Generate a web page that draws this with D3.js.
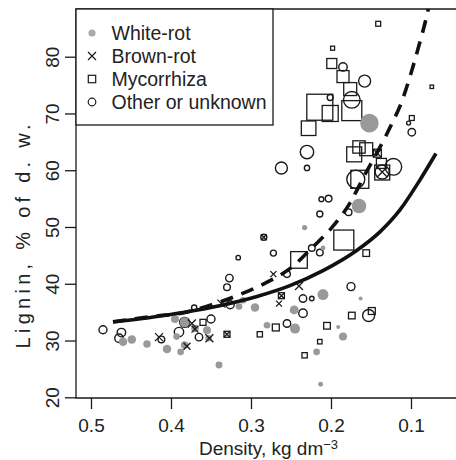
<!DOCTYPE html>
<html><head><meta charset="utf-8">
<script src="https://cdn.jsdelivr.net/npm/d3@7"></script>
<style>
html,body{margin:0;padding:0;background:#fff;}
svg{display:block;}
text{font-family:"Liberation Sans",Arial,Helvetica,sans-serif;fill:#222;}
</style></head>
<body><svg id="chart" width="456" height="460"></svg>
<script>
// ---- data: [density kg dm-3, lignin %, weight] ----
const whiteRot = [
 [0.152,68.3,86],[0.165,53.7,53],[0.233,49.9,7],[0.210,46.3,6],[0.210,38.1,30],[0.163,37.4,4],
 [0.246,35.4,20],[0.280,32.7,11],[0.245,32.1,25],[0.191,32.4,4],[0.185,30.7,16],[0.218,28.0,11],
 [0.213,22.3,6],[0.315,36.0,11],[0.310,37.1,11],[0.295,35.8,18],[0.370,32.1,14],[0.355,31.8,16],
 [0.353,30.4,11],[0.340,25.7,12],[0.460,29.8,18],[0.449,30.2,18],[0.430,29.4,14],[0.405,28.5,18],
 [0.388,28.0,11],[0.383,29.2,14],[0.393,30.7,11],[0.395,33.8,16],[0.383,33.2,25]
];
const brownRot = [
 [0.272,41.7,9],[0.240,39.6,16],[0.262,37.9,9],[0.265,36.5,9],[0.337,36.5,16],[0.374,33.0,16],
 [0.370,32.0,12],[0.352,30.4,16],[0.380,29.0,12],[0.415,30.6,16],[0.330,31.1,9],[0.136,59.7,25],
 [0.142,63.0,12],[0.284,48.2,9]
];
const mycorrhiza = [
 [0.141,85.8,6],[0.198,81.5,4],[0.199,78.8,25],[0.185,76.5,36],[0.176,74.3,42],[0.214,71.1,169],
 [0.201,70.0,64],[0.174,70.5,100],[0.228,67.4,53],[0.074,74.7,3],[0.099,69.2,6],[0.171,62.8,56],
 [0.165,64.1,38],[0.156,63.7,42],[0.142,63.0,16],[0.137,61.2,25],[0.136,59.6,56],[0.164,58.4,81],
 [0.184,47.7,100],[0.240,44.2,69],[0.156,45.4,11],[0.262,37.9,9],[0.149,35.2,12],[0.174,34.4,11],
 [0.205,32.6,11],[0.269,32.3,12],[0.289,31.1,7],[0.214,29.8,5],[0.233,27.4,7],[0.330,31.1,9],
 [0.360,33.2,9]
];
const otherUnknown = [
 [0.185,78.2,18],[0.158,75.7,36],[0.174,72.4,69],[0.201,72.8,9],[0.103,68.3,4],[0.099,66.7,14],
 [0.230,63.2,45],[0.262,60.4,36],[0.230,60.4,7],[0.122,60.6,69],[0.136,59.7,49],[0.169,58.4,81],
 [0.212,54.9,6],[0.203,55.0,11],[0.178,52.6,11],[0.214,52.3,9],[0.284,48.2,9],[0.272,45.4,9],
 [0.224,46.3,11],[0.214,45.5,11],[0.255,41.7,11],[0.175,39.5,16],[0.235,37.4,14],[0.224,37.4,5],
 [0.235,34.8,18],[0.153,34.4,36],[0.255,33.0,14],[0.316,44.6,5],[0.327,41.0,14],[0.330,39.4,11],
 [0.326,36.3,16],[0.371,35.8,7],[0.350,33.8,16],[0.365,30.6,14],[0.485,31.9,16],[0.462,31.4,18],
 [0.465,30.4,18],[0.412,30.2,11],[0.390,31.5,22],[0.383,33.2,25]
];
// fitted curves [density, lignin]
const solidFit = [
 [0.4725,33.26],[0.430,33.98],[0.385,34.93],[0.335,36.27],[0.2925,37.77],[0.2513,39.68],
 [0.210,42.31],[0.1675,45.90],[0.1388,49.14],[0.1138,53.01],[0.0888,58.29],[0.0688,62.94]
];
const dashedFit = [
 [0.4725,33.3],[0.420,34.3],[0.384,34.9],[0.349,36.3],[0.314,38.1],[0.281,40.2],[0.251,42.7],
 [0.2225,46.5],[0.199,49.9],[0.176,54.3],[0.160,58.6],[0.126,67.6],[0.111,72.3],[0.100,77.1],
 [0.090,82.0],[0.081,86.8],[0.076,90.0]
];
const xTicks = [0.5,0.4,0.3,0.2,0.1];
const yTicks = [20,30,40,50,60,70,80];
const legendLabels = ["White-rot","Brown-rot","Mycorrhiza","Other or unknown"];

// ---- drawing ----
const svg = d3.select("#chart");
const L = 76, T = 9, R = 456, B = 398;
const x = d3.scaleLinear().domain([0.5,0.1]).range([91,411]);
const y = d3.scaleLinear().domain([20,80]).range([397.3,56.7]);
const sz = d3.scaleSqrt().domain([0,100]).range([0,10]);
const ink = "#1a1a1a";

svg.append("defs").append("clipPath").attr("id","clip")
  .append("rect").attr("x",L).attr("y",T).attr("width",R-L).attr("height",B-T);

// frame
svg.append("path").attr("d",`M${R+5},${T}H${L}V${B}H${R+5}`)
  .attr("fill","none").attr("stroke",ink).attr("stroke-width",1.3);

// axes
const xa = svg.append("g").attr("transform",`translate(0,${B})`)
  .call(d3.axisBottom(x).tickValues(xTicks).tickSize(11).tickFormat(d3.format(".1f")));
const ya = svg.append("g").attr("transform",`translate(${L},0)`)
  .call(d3.axisLeft(y).tickValues(yTicks).tickSize(11).tickFormat(d3.format("d")));
[xa,ya].forEach(g=>{
  g.select(".domain").remove();
  g.selectAll(".tick line").attr("stroke",ink).attr("stroke-width",1.3);
  g.selectAll("text").style("font-size","19px").attr("fill","#222");
});
xa.selectAll("text").attr("y",33.7).attr("dy",0);
ya.selectAll("text").attr("x",0).attr("dy",0).attr("text-anchor","middle")
  .attr("transform","translate(-17,0) rotate(-90)");

// axis titles
const xt = svg.append("text").attr("x",199).attr("y",455).style("font-size","19px");
xt.append("tspan").text("Density, kg dm");
xt.append("tspan").text("\u22123").style("font-size","13px").attr("dy",-6);
svg.append("text").attr("transform","translate(30,236.5) rotate(-90)")
  .attr("text-anchor","middle").style("font-size","20px")
  .attr("textLength",224).attr("lengthAdjust","spacing").text("Lignin, % of d. w.");

const plot = svg.append("g").attr("clip-path","url(#clip)");

// symbols
plot.selectAll("rect.myc").data(mycorrhiza).join("rect").attr("class","myc")
  .attr("x",d=>x(d[0])-sz(d[2])).attr("y",d=>y(d[1])-sz(d[2]))
  .attr("width",d=>2*sz(d[2])).attr("height",d=>2*sz(d[2]))
  .attr("fill","none").attr("stroke",ink).attr("stroke-width",1.3);
plot.selectAll("circle.oth").data(otherUnknown).join("circle").attr("class","oth")
  .attr("cx",d=>x(d[0])).attr("cy",d=>y(d[1])).attr("r",d=>sz(d[2]))
  .attr("fill","none").attr("stroke",ink).attr("stroke-width",1.4);
plot.selectAll("circle.wr").data(whiteRot).join("circle").attr("class","wr")
  .attr("cx",d=>x(d[0])).attr("cy",d=>y(d[1])).attr("r",d=>sz(d[2]))
  .attr("fill","#999");
plot.selectAll("path.br").data(brownRot).join("path").attr("class","br")
  .attr("d",d=>{const cx=x(d[0]),cy=y(d[1]),s=sz(d[2]);
    return `M${cx-s},${cy-s}L${cx+s},${cy+s}M${cx-s},${cy+s}L${cx+s},${cy-s}`;})
  .attr("stroke",ink).attr("stroke-width",1.3).attr("fill","none");

// curves
const line = d3.line().x(d=>x(d[0])).y(d=>y(d[1])).curve(d3.curveMonotoneX);
plot.append("path").datum(solidFit).attr("d",line)
  .attr("fill","none").attr("stroke","#111").attr("stroke-width",3.6);
plot.append("path").datum(dashedFit).attr("d",line)
  .attr("fill","none").attr("stroke","#111").attr("stroke-width",3.6)
  .attr("stroke-dasharray","13,9");

// legend
const lg = svg.append("g");
lg.append("rect").attr("x",L).attr("y",T).attr("width",273-L).attr("height",125-T)
  .attr("fill","#fff").attr("stroke",ink).attr("stroke-width",1.3);
const rowY = d3.scalePoint().domain(legendLabels).range([33,102]);
legendLabels.forEach((lab,i)=>{
  const cy = rowY(lab), cx = 92;
  if(i===0) lg.append("circle").attr("cx",cx).attr("cy",cy).attr("r",3.6).attr("fill","#aaa");
  if(i===1) lg.append("path").attr("d",`M${cx-4},${cy-4}L${cx+4},${cy+4}M${cx-4},${cy+4}L${cx+4},${cy-4}`)
    .attr("stroke",ink).attr("stroke-width",1.2);
  if(i===2) lg.append("rect").attr("x",cx-3.7).attr("y",cy-3.7).attr("width",7.4).attr("height",7.4)
    .attr("fill","none").attr("stroke",ink).attr("stroke-width",1.2);
  if(i===3) lg.append("circle").attr("cx",cx).attr("cy",cy).attr("r",3.8)
    .attr("fill","none").attr("stroke",ink).attr("stroke-width",1.2);
  lg.append("text").attr("x",111.5).attr("y",cy+6.5).style("font-size","19.5px").text(lab);
});
</script></body></html>
